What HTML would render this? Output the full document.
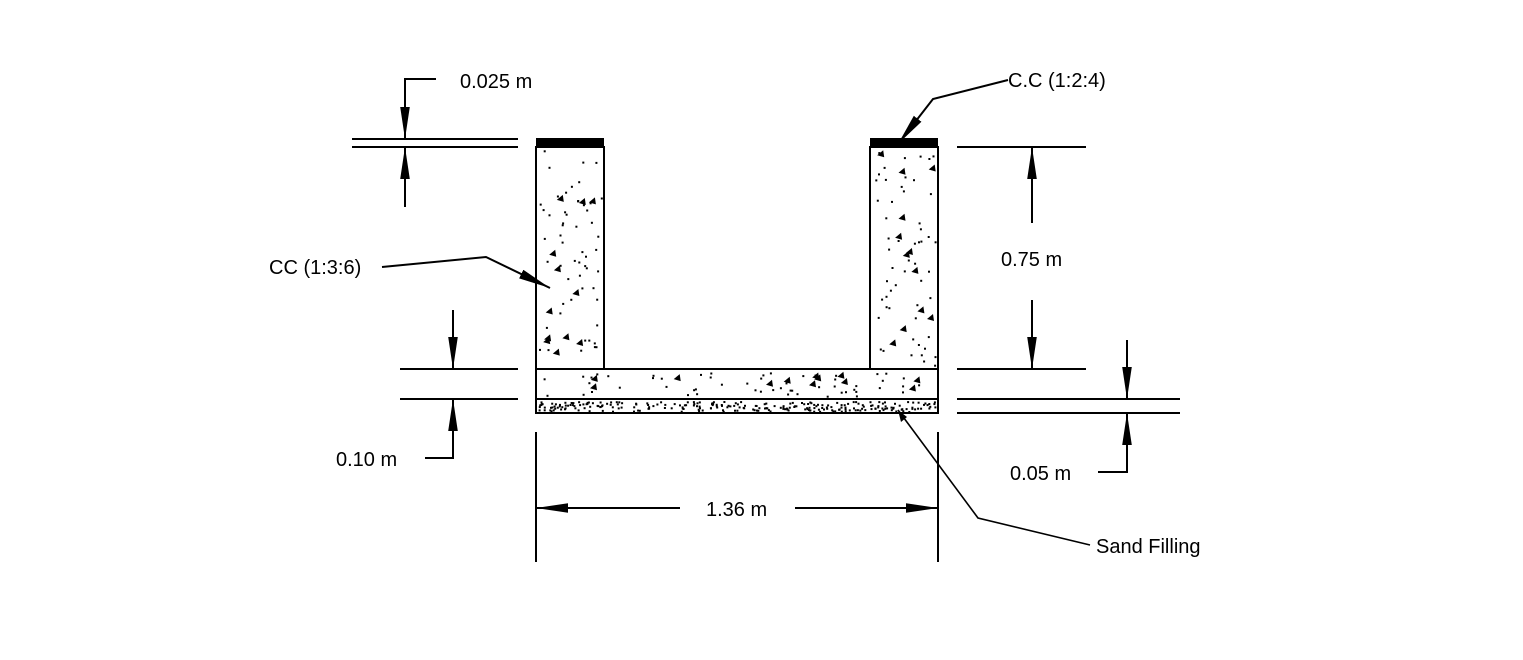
<!DOCTYPE html>
<html><head><meta charset="utf-8"><style>
html,body{margin:0;padding:0;background:#fff;width:1523px;height:660px;overflow:hidden}
text{font-family:"Liberation Sans",Arial,sans-serif;font-size:20px;fill:#000}
</style></head><body>
<svg id="s" width="1523" height="660" viewBox="0 0 1523 660" xmlns="http://www.w3.org/2000/svg">
<defs>
<marker id="b" viewBox="0 0 10 10" refX="10" refY="5" markerWidth="32" markerHeight="32" orient="auto" markerUnits="userSpaceOnUse"><path d="M0,3.5 L10,5 L0,6.5Z" fill="#000"/></marker>
</defs>
<g stroke="#000" stroke-width="2" fill="none">
<rect x="536" y="147" width="68" height="222"/>
<rect x="870" y="147" width="68" height="222"/>
<rect x="536" y="369" width="402" height="30"/>
<rect x="536" y="399" width="402" height="14"/>
<line x1="352" y1="139" x2="518" y2="139"/><line x1="352" y1="147" x2="518" y2="147"/>
<polyline points="436,79 405,79 405,139" marker-end="url(#b)"/>
<line x1="405" y1="207" x2="405" y2="147" marker-end="url(#b)"/>
<line x1="400" y1="369" x2="518" y2="369"/><line x1="400" y1="399" x2="518" y2="399"/>
<line x1="453" y1="310" x2="453" y2="369" marker-end="url(#b)"/>
<polyline points="425,458 453,458 453,399" marker-end="url(#b)"/>
<line x1="957" y1="147" x2="1086" y2="147"/><line x1="957" y1="369" x2="1086" y2="369"/>
<line x1="1032" y1="223" x2="1032" y2="147" marker-end="url(#b)"/>
<line x1="1032" y1="300" x2="1032" y2="369" marker-end="url(#b)"/>
<line x1="957" y1="399" x2="1180" y2="399"/><line x1="957" y1="413" x2="1180" y2="413"/>
<line x1="1127" y1="340" x2="1127" y2="399" marker-end="url(#b)"/>
<polyline points="1098,472 1127,472 1127,413" marker-end="url(#b)"/>
<line x1="536" y1="432" x2="536" y2="562"/><line x1="938" y1="432" x2="938" y2="562"/>
<line x1="680" y1="508" x2="536" y2="508" marker-end="url(#b)"/>
<line x1="795" y1="508" x2="938" y2="508" marker-end="url(#b)"/>
<polyline points="1008,80 933,99 898,144" marker-end="url(#b)"/>
<polyline points="382,267 486,257 550,288" marker-end="url(#b)"/>
<polyline points="1090,545 978,518 898,410" stroke-width="1.6"/>
</g>
<path d="M898,410 l3,12 l6,-5z" fill="#000"/>
<rect x="536" y="138" width="68" height="9" fill="#000"/>
<rect x="870" y="138" width="68" height="9" fill="#000"/>
<g id="dots" fill="#000"></g>
<text x="460" y="88">0.025 m</text>
<text x="1008" y="87">C.C (1:2:4)</text>
<text x="269" y="274">CC (1:3:6)</text>
<text x="1001" y="266">0.75 m</text>
<text x="336" y="466">0.10 m</text>
<text x="1010" y="480">0.05 m</text>
<text x="706" y="516">1.36 m</text>
<text x="1096" y="553">Sand Filling</text>
</svg>
<script>
var g=document.getElementById('dots'),seed=7;
function r(){seed=(seed*16807)%2147483647;return seed/2147483647;}
var h='';
function fill(x,y,w,hh,n,t){for(var i=0;i<n;i++){var px=x+r()*w,py=y+r()*hh;h+='<rect x="'+px.toFixed(1)+'" y="'+py.toFixed(1)+'" width="2" height="2"/>';}
for(i=0;i<t;i++){var px=x+4+r()*(w-10),py=y+4+r()*(hh-10);h+='<path d="M'+px.toFixed(1)+','+py.toFixed(1)+' l6,-5 l1,7z"/>';}}
fill(539,150,62,216,55,12);fill(873,150,62,216,55,12);fill(607,372,260,24,40,8);fill(539,372,60,24,8,2);fill(873,372,62,24,8,2);fill(538,401,398,10,260,0);
g.innerHTML=h;
</script>
</body></html>
